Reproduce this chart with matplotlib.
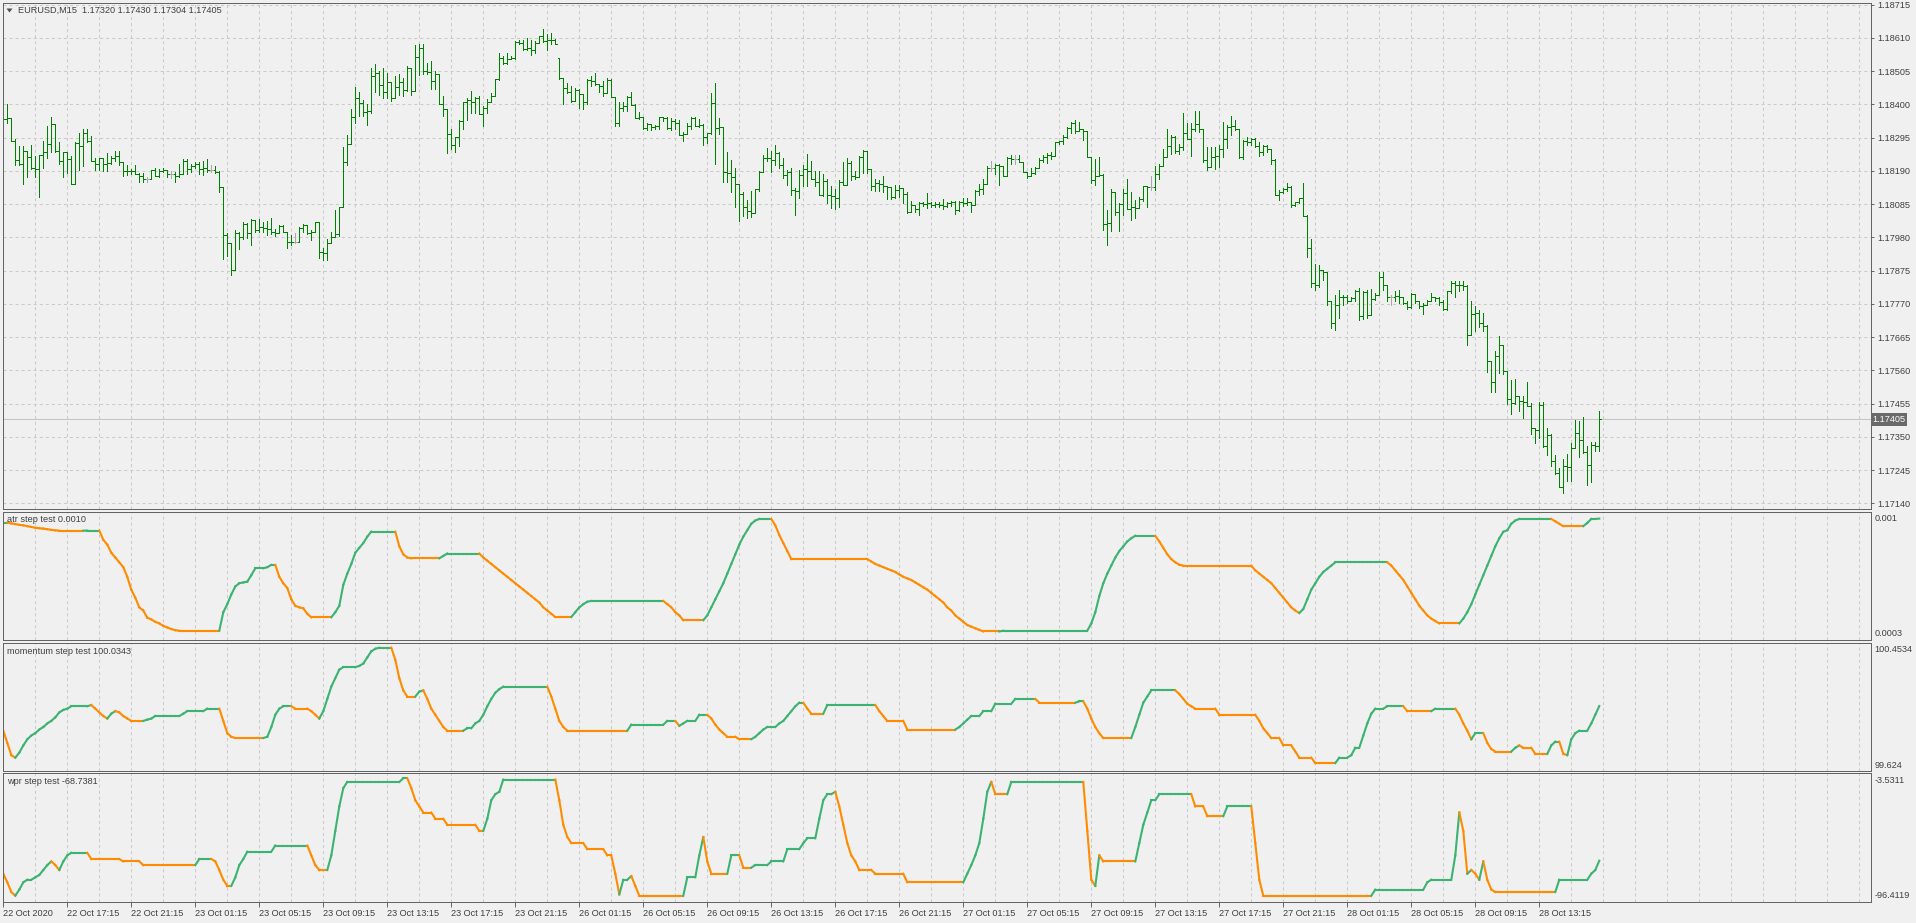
import numpy as np
import matplotlib.pyplot as plt
from matplotlib.collections import LineCollection
from matplotlib.patches import Polygon
from matplotlib.transforms import blended_transform_factory

# EURUSD M15 bars, prices in points: 18374 -> 1.18374
opens = [
    18300, 18355, 18358, 18283, 18224, 18210, 18254, 18233, 18198, 18196,
    18240, 18250, 18274, 18339, 18254, 18222, 18248, 18227, 18149, 18277,
    18269, 18311, 18285, 18222, 18212, 18230, 18212, 18214, 18230, 18236,
    18217, 18191, 18189, 18191, 18180, 18175, 18165, 18165, 18194, 18175,
    18191, 18194, 18180, 18180, 18175, 18180, 18222, 18196, 18204, 18212,
    18196, 18198, 18194, 18194, 18186, 18139, 17987, 17961, 17878, 17993,
    17982, 18021, 17993, 18034, 18003, 18013, 18011, 18006, 17996, 17993,
    18017, 17998, 17966, 17964, 17964, 18010, 18019, 17993, 17998, 18027,
    17933, 17930, 17961, 17982, 17989, 18076, 18217, 18274, 18361, 18421,
    18403, 18376, 18378, 18490, 18500, 18460, 18440, 18470, 18420, 18455,
    18470, 18445, 18516, 18443, 18549, 18578, 18505, 18503, 18474, 18497,
    18401, 18385, 18307, 18271, 18297, 18347, 18406, 18415, 18406, 18419,
    18370, 18389, 18406, 18425, 18479, 18547, 18531, 18544, 18546, 18596,
    18594, 18575, 18578, 18571, 18594, 18617, 18599, 18602, 18604, 18545,
    18484, 18453, 18438, 18411, 18446, 18432, 18406, 18477, 18474, 18464,
    18458, 18435, 18477, 18422, 18342, 18387, 18396, 18422, 18398, 18357,
    18359, 18325, 18338, 18328, 18333, 18359, 18356, 18325, 18346, 18340,
    18304, 18307, 18331, 18357, 18333, 18335, 18297, 18310, 18404, 18325,
    18330, 18185, 18182, 18172, 18148, 18116, 18075, 18064, 18057, 18133,
    18185, 18229, 18231, 18224, 18245, 18208, 18177, 18185, 18130, 18125,
    18177, 18196, 18191, 18165, 18156, 18115, 18158, 18115, 18111, 18105,
    18156, 18146, 18215, 18175, 18170, 18233, 18254, 18196, 18142, 18152,
    18148, 18142, 18139, 18107, 18128, 18136, 18118, 18060, 18081, 18069,
    18087, 18084, 18087, 18083, 18085, 18081, 18079, 18087, 18092, 18066,
    18090, 18088, 18090, 18083, 18125, 18133, 18149, 18198, 18198, 18209,
    18204, 18175, 18231, 18227, 18227, 18219, 18186, 18175, 18184, 18198,
    18225, 18233, 18240, 18236, 18280, 18283, 18298, 18326, 18342, 18316,
    18321, 18316, 18233, 18160, 18175, 18177, 18021, 18024, 18123, 18060,
    18084, 18121, 18069, 18076, 18072, 18102, 18142, 18139, 18139, 18180,
    18204, 18233, 18269, 18298, 18254, 18264, 18311, 18292, 18321, 18337,
    18323, 18223, 18203, 18234, 18236, 18260, 18292, 18328, 18332, 18321,
    18234, 18283, 18281, 18292, 18269, 18248, 18269, 18258, 18223, 18115,
    18122, 18132, 18140, 18082, 18090, 18103, 18048, 17945, 17835, 17830,
    17877, 17872, 17778, 17709, 17765, 17793, 17790, 17778, 17788, 17811,
    17730, 17807, 17736, 17786, 17799, 17856, 17830, 17793, 17793, 17796,
    17790, 17772, 17759, 17801, 17778, 17762, 17767, 17780, 17793, 17788,
    17776, 17755, 17809, 17835, 17828, 17830, 17826, 17671, 17738, 17741,
    17709, 17699, 17589, 17524, 17605, 17641, 17557, 17468, 17458, 17479,
    17463, 17460, 17447, 17377, 17371, 17450, 17321, 17356, 17274, 17237,
    17190, 17258, 17255, 17314, 17363, 17339, 17303, 17262, 17324, 17320,
]
highs = [
    18374, 18400, 18358, 18290, 18269, 18269, 18254, 18272, 18236, 18240,
    18285, 18332, 18359, 18339, 18280, 18250, 18250, 18236, 18280, 18308,
    18323, 18321, 18301, 18230, 18231, 18231, 18246, 18238, 18254, 18254,
    18219, 18209, 18196, 18207, 18183, 18183, 18170, 18194, 18198, 18196,
    18198, 18194, 18188, 18186, 18212, 18227, 18227, 18212, 18217, 18219,
    18222, 18227, 18207, 18204, 18188, 18139, 17993, 17961, 18003, 17998,
    18029, 18024, 18037, 18035, 18037, 18027, 18031, 18040, 18006, 18019,
    18019, 17998, 17987, 17993, 18013, 18022, 18019, 18003, 18029, 18029,
    17946, 17974, 17996, 18066, 18076, 18264, 18303, 18384, 18455, 18438,
    18413, 18400, 18515, 18528, 18505, 18515, 18500, 18470, 18490, 18495,
    18484, 18521, 18516, 18586, 18592, 18589, 18531, 18537, 18505, 18497,
    18427, 18385, 18321, 18297, 18349, 18406, 18419, 18443, 18422, 18427,
    18394, 18417, 18435, 18479, 18563, 18552, 18561, 18554, 18599, 18604,
    18604, 18610, 18602, 18599, 18617, 18638, 18623, 18625, 18607, 18547,
    18484, 18467, 18458, 18453, 18448, 18432, 18479, 18490, 18498, 18464,
    18474, 18484, 18481, 18422, 18406, 18406, 18425, 18440, 18401, 18375,
    18359, 18342, 18338, 18335, 18359, 18361, 18359, 18356, 18354, 18349,
    18312, 18342, 18359, 18359, 18354, 18338, 18310, 18435, 18467, 18356,
    18330, 18248, 18224, 18198, 18148, 18123, 18099, 18125, 18133, 18189,
    18239, 18262, 18252, 18273, 18250, 18229, 18192, 18198, 18137, 18192,
    18209, 18243, 18222, 18191, 18188, 18180, 18165, 18142, 18133, 18160,
    18217, 18230, 18222, 18191, 18236, 18257, 18254, 18196, 18165, 18160,
    18173, 18142, 18139, 18144, 18146, 18136, 18123, 18094, 18081, 18092,
    18092, 18121, 18092, 18090, 18092, 18100, 18092, 18094, 18094, 18094,
    18104, 18104, 18092, 18128, 18149, 18165, 18204, 18222, 18212, 18212,
    18204, 18233, 18240, 18240, 18240, 18219, 18186, 18198, 18201, 18230,
    18240, 18246, 18248, 18282, 18285, 18303, 18330, 18344, 18351, 18344,
    18321, 18316, 18233, 18227, 18233, 18180, 18066, 18133, 18123, 18087,
    18133, 18165, 18123, 18097, 18107, 18142, 18142, 18173, 18204, 18212,
    18259, 18323, 18303, 18301, 18274, 18372, 18340, 18340, 18379, 18379,
    18323, 18265, 18265, 18265, 18271, 18344, 18334, 18363, 18352, 18321,
    18286, 18297, 18294, 18294, 18281, 18271, 18273, 18260, 18226, 18129,
    18136, 18153, 18143, 18092, 18105, 18153, 18050, 17975, 17895, 17893,
    17877, 17872, 17780, 17799, 17814, 17799, 17799, 17793, 17814, 17820,
    17809, 17814, 17818, 17804, 17872, 17872, 17830, 17799, 17811, 17814,
    17793, 17778, 17804, 17801, 17780, 17772, 17783, 17804, 17793, 17790,
    17783, 17811, 17841, 17841, 17843, 17843, 17830, 17778, 17762, 17751,
    17741, 17702, 17589, 17620, 17668, 17641, 17559, 17528, 17534, 17479,
    17479, 17524, 17458, 17377, 17461, 17461, 17379, 17360, 17293, 17251,
    17279, 17297, 17329, 17402, 17400, 17413, 17321, 17335, 17335, 17430,
]
lows = [
    18254, 18341, 18283, 18207, 18207, 18149, 18170, 18196, 18170, 18108,
    18198, 18230, 18250, 18248, 18212, 18172, 18183, 18149, 18149, 18194,
    18204, 18280, 18222, 18194, 18194, 18188, 18191, 18212, 18222, 18209,
    18175, 18177, 18180, 18180, 18154, 18156, 18154, 18163, 18173, 18170,
    18186, 18170, 18168, 18156, 18170, 18180, 18180, 18186, 18198, 18180,
    18178, 18186, 18186, 18184, 18123, 17912, 17920, 17862, 17878, 17944,
    17975, 17977, 17956, 17996, 17998, 17998, 17987, 17989, 17985, 17993,
    17998, 17946, 17956, 17963, 17964, 17996, 17989, 17972, 17996, 17914,
    17909, 17909, 17961, 17982, 17985, 18076, 18207, 18274, 18341, 18363,
    18363, 18334, 18374, 18440, 18430, 18420, 18420, 18410, 18420, 18430,
    18427, 18443, 18429, 18443, 18492, 18495, 18495, 18448, 18450, 18401,
    18362, 18245, 18260, 18250, 18269, 18323, 18352, 18373, 18373, 18370,
    18331, 18373, 18406, 18425, 18477, 18526, 18526, 18542, 18542, 18589,
    18573, 18573, 18557, 18563, 18594, 18596, 18571, 18592, 18592, 18481,
    18401, 18435, 18408, 18411, 18387, 18385, 18401, 18458, 18460, 18440,
    18427, 18435, 18422, 18331, 18331, 18380, 18380, 18398, 18356, 18354,
    18323, 18318, 18318, 18323, 18323, 18346, 18323, 18318, 18323, 18304,
    18283, 18307, 18323, 18331, 18328, 18273, 18279, 18307, 18210, 18307,
    18154, 18156, 18123, 18075, 18033, 18046, 18041, 18043, 18057, 18125,
    18185, 18221, 18187, 18208, 18198, 18166, 18146, 18114, 18052, 18104,
    18142, 18142, 18165, 18142, 18115, 18111, 18087, 18073, 18069, 18076,
    18146, 18146, 18160, 18165, 18170, 18184, 18184, 18131, 18125, 18125,
    18123, 18100, 18102, 18104, 18107, 18087, 18058, 18060, 18060, 18052,
    18079, 18073, 18076, 18076, 18076, 18069, 18076, 18079, 18055, 18063,
    18079, 18081, 18060, 18083, 18113, 18118, 18149, 18191, 18180, 18146,
    18175, 18175, 18212, 18212, 18217, 18186, 18167, 18175, 18180, 18198,
    18217, 18215, 18227, 18236, 18274, 18274, 18295, 18311, 18311, 18316,
    18288, 18233, 18152, 18146, 18175, 18003, 17956, 18000, 18052, 18000,
    18052, 18069, 18034, 18042, 18072, 18094, 18076, 18128, 18128, 18165,
    18204, 18233, 18243, 18246, 18243, 18257, 18292, 18236, 18316, 18313,
    18218, 18192, 18203, 18197, 18203, 18234, 18262, 18302, 18318, 18229,
    18227, 18271, 18271, 18265, 18237, 18239, 18248, 18213, 18113, 18098,
    18119, 18126, 18077, 18080, 18087, 18048, 17919, 17822, 17814, 17822,
    17846, 17765, 17694, 17688, 17725, 17767, 17772, 17778, 17778, 17720,
    17723, 17725, 17736, 17783, 17799, 17814, 17780, 17765, 17778, 17772,
    17769, 17755, 17757, 17772, 17757, 17738, 17765, 17778, 17778, 17767,
    17751, 17751, 17804, 17790, 17811, 17814, 17639, 17671, 17685, 17696,
    17685, 17555, 17492, 17492, 17552, 17549, 17455, 17423, 17455, 17431,
    17408, 17447, 17360, 17329, 17345, 17318, 17293, 17258, 17234, 17190,
    17174, 17211, 17211, 17314, 17287, 17300, 17199, 17206, 17305, 17304,
]
closes = [
    18355, 18358, 18283, 18224, 18210, 18254, 18233, 18198, 18196, 18240,
    18250, 18274, 18339, 18254, 18222, 18248, 18227, 18149, 18277, 18269,
    18311, 18285, 18222, 18212, 18230, 18212, 18214, 18230, 18236, 18217,
    18191, 18189, 18191, 18180, 18175, 18165, 18165, 18194, 18175, 18191,
    18194, 18180, 18180, 18175, 18180, 18222, 18196, 18204, 18212, 18196,
    18198, 18194, 18194, 18186, 18139, 17987, 17961, 17878, 17993, 17982,
    18021, 17993, 18034, 18003, 18013, 18011, 18006, 17996, 17993, 18017,
    17998, 17966, 17964, 17964, 18010, 18019, 17993, 17998, 18027, 17933,
    17930, 17961, 17982, 17989, 18076, 18217, 18274, 18361, 18421, 18403,
    18376, 18378, 18490, 18500, 18460, 18440, 18470, 18420, 18455, 18470,
    18445, 18516, 18443, 18549, 18578, 18505, 18503, 18474, 18497, 18401,
    18385, 18307, 18271, 18297, 18347, 18406, 18415, 18406, 18419, 18370,
    18389, 18406, 18425, 18479, 18547, 18531, 18544, 18546, 18596, 18594,
    18575, 18578, 18571, 18594, 18617, 18599, 18602, 18604, 18592, 18484,
    18453, 18438, 18411, 18446, 18432, 18406, 18477, 18474, 18464, 18458,
    18435, 18477, 18422, 18342, 18387, 18396, 18422, 18398, 18357, 18359,
    18325, 18338, 18328, 18333, 18359, 18356, 18325, 18346, 18340, 18304,
    18307, 18331, 18357, 18333, 18335, 18297, 18310, 18404, 18325, 18330,
    18185, 18182, 18172, 18148, 18116, 18075, 18064, 18057, 18133, 18185,
    18229, 18231, 18224, 18245, 18208, 18177, 18185, 18130, 18125, 18177,
    18196, 18191, 18165, 18156, 18115, 18158, 18115, 18111, 18105, 18156,
    18146, 18215, 18175, 18170, 18233, 18254, 18196, 18142, 18152, 18148,
    18142, 18139, 18107, 18128, 18136, 18118, 18060, 18081, 18069, 18087,
    18084, 18087, 18083, 18085, 18081, 18079, 18087, 18092, 18066, 18090,
    18088, 18090, 18083, 18125, 18133, 18149, 18198, 18198, 18209, 18204,
    18175, 18231, 18227, 18227, 18219, 18186, 18175, 18184, 18198, 18225,
    18233, 18240, 18236, 18280, 18283, 18298, 18326, 18342, 18316, 18321,
    18316, 18233, 18160, 18175, 18177, 18021, 18024, 18123, 18060, 18084,
    18121, 18069, 18076, 18072, 18102, 18142, 18139, 18139, 18180, 18204,
    18233, 18269, 18298, 18254, 18264, 18311, 18292, 18321, 18337, 18323,
    18223, 18203, 18234, 18236, 18260, 18292, 18328, 18332, 18321, 18234,
    18283, 18281, 18292, 18269, 18248, 18269, 18258, 18223, 18115, 18122,
    18132, 18140, 18082, 18090, 18103, 18048, 17945, 17835, 17830, 17877,
    17872, 17778, 17709, 17765, 17793, 17790, 17778, 17788, 17811, 17730,
    17807, 17736, 17786, 17799, 17856, 17830, 17793, 17793, 17796, 17790,
    17772, 17759, 17801, 17778, 17762, 17767, 17780, 17793, 17788, 17776,
    17755, 17809, 17835, 17828, 17830, 17826, 17671, 17738, 17741, 17709,
    17699, 17589, 17524, 17605, 17641, 17557, 17468, 17458, 17479, 17463,
    17460, 17447, 17377, 17371, 17450, 17321, 17356, 17274, 17237, 17190,
    17258, 17255, 17314, 17363, 17339, 17303, 17262, 17324, 17320, 17405,
]

# atr step, in points (1e-5)
atr_pts = [
    97.7, 97.7, 97.2, 96.8, 96.3, 96.0, 95.5, 95.0, 94.5, 94.2,
    94.0, 93.6, 93.2, 92.9, 92.7, 92.7, 92.7, 92.7, 92.7, 92.7,
    92.7, 92.8, 92.8, 92.8, 92.8, 87.0, 84.0, 79.0, 76.0, 73.0,
    70.0, 64.0, 56.0, 51.0, 45.0, 43.0, 38.5, 37.5, 36.0, 35.0,
    33.5, 32.5, 31.5, 30.8, 30.5, 30.5, 30.5, 30.5, 30.5, 30.5,
    30.5, 30.5, 30.5, 30.5, 30.5, 42.0, 47.0, 53.0, 58.0, 60.0,
    60.5, 61.0, 65.0, 69.3, 69.3, 69.3, 70.0, 71.4, 71.4, 64.0,
    60.0, 57.0, 50.0, 46.0, 45.0, 44.4, 41.0, 38.8, 38.8, 38.8,
    38.8, 38.8, 38.8, 42.0, 46.0, 59.0, 66.0, 72.0, 79.0, 82.0,
    85.0, 89.0, 92.1, 92.1, 92.1, 92.1, 92.1, 92.1, 92.1, 83.0,
    78.0, 76.0, 75.5, 75.5, 75.5, 75.5, 75.5, 75.5, 75.5, 75.5,
    77.0, 78.5, 78.5, 78.5, 78.5, 78.5, 78.5, 78.5, 78.5, 78.5,
    76.0, 74.0, 72.0, 70.0, 68.0, 66.0, 64.0, 62.0, 60.0, 58.0,
    56.0, 54.0, 52.0, 50.0, 48.0, 45.0, 43.0, 41.0, 39.0, 39.0,
    39.0, 39.0, 39.0, 42.0, 45.0, 47.0, 48.5, 49.0, 49.0, 49.0,
    49.0, 49.0, 49.0, 49.0, 49.0, 49.0, 49.0, 49.0, 49.0, 49.0,
    49.0, 49.0, 49.0, 49.0, 49.0, 49.0, 47.0, 45.0, 42.0, 40.0,
    37.0, 37.0, 37.0, 37.0, 37.0, 37.0, 40.0, 45.0, 50.0, 55.0,
    60.0, 66.0, 72.0, 78.0, 84.0, 89.0, 93.0, 97.0, 99.0, 100.0,
    100.0, 100.0, 100.0, 96.0, 90.0, 85.0, 80.0, 75.0, 75.0, 75.0,
    75.0, 75.0, 75.0, 75.0, 75.0, 75.0, 75.0, 75.0, 75.0, 75.0,
    75.0, 75.0, 75.0, 75.0, 75.0, 75.0, 75.0, 73.5, 72.0, 71.0,
    70.0, 69.0, 68.0, 67.0, 65.5, 64.0, 63.0, 62.0, 60.5, 59.0,
    57.5, 56.0, 54.0, 52.0, 50.0, 48.0, 45.0, 43.0, 40.0, 38.0,
    36.0, 34.0, 33.0, 32.0, 31.0, 30.0, 30.0, 30.0, 30.0, 30.0,
    30.5, 30.5, 30.5, 30.5, 30.5, 30.5, 30.5, 30.5, 30.5, 30.5,
    30.5, 30.5, 30.5, 30.5, 30.5, 30.5, 30.5, 30.5, 30.5, 30.5,
    30.5, 30.5, 35.0, 42.0, 52.0, 60.0, 66.0, 71.0, 76.0, 80.0,
    83.0, 86.0, 88.0, 89.5, 89.5, 89.5, 89.5, 89.5, 89.5, 86.0,
    82.0, 78.0, 75.0, 73.0, 71.5, 71.0, 71.0, 71.0, 71.0, 71.0,
    71.0, 71.0, 71.0, 71.0, 71.0, 71.0, 71.0, 71.0, 71.0, 71.0,
    71.0, 71.0, 71.0, 68.0, 66.0, 64.0, 62.0, 60.0, 57.0, 54.0,
    51.0, 48.0, 45.0, 43.0, 41.5, 44.0, 50.0, 56.0, 60.0, 64.0,
    67.0, 69.0, 71.0, 73.0, 73.0, 73.0, 73.0, 73.0, 73.0, 73.0,
    73.0, 73.0, 73.0, 73.0, 73.0, 73.0, 73.0, 71.0, 68.0, 65.0,
    62.0, 58.0, 54.0, 50.0, 46.0, 43.0, 40.0, 38.0, 36.5, 35.0,
    35.0, 35.0, 35.0, 35.0, 35.0, 38.0, 42.0, 47.0, 53.0, 59.0,
    65.0, 71.0, 77.0, 83.0, 88.0, 92.0, 93.0, 97.0, 99.0, 100.0,
    100.0, 100.0, 100.0, 100.0, 100.0, 100.0, 100.0, 100.0, 98.5, 97.0,
    95.5, 95.5, 95.5, 95.5, 95.5, 95.5, 97.5, 100.0, 100.0, 100.2,
]

momentum = [
    99.857, 99.769, 99.681, 99.663, 99.699, 99.751, 99.795, 99.822, 99.839, 99.865,
    99.883, 99.909, 99.927, 99.953, 99.988, 100.006, 100.015, 100.032, 100.032, 100.032,
    100.032, 100.032, 100.041, 100.015, 99.988, 99.962, 99.944, 99.979, 99.997, 99.988,
    99.962, 99.944, 99.927, 99.927, 99.927, 99.927, 99.936, 99.944, 99.962, 99.962,
    99.962, 99.962, 99.962, 99.962, 99.962, 99.979, 99.997, 99.997, 99.997, 99.997,
    99.997, 100.015, 100.015, 100.015, 100.015, 99.927, 99.839, 99.813, 99.804, 99.804,
    99.804, 99.804, 99.804, 99.804, 99.804, 99.804, 99.813, 99.883, 99.971, 100.015,
    100.032, 100.032, 100.032, 100.015, 100.015, 100.015, 100.015, 99.997, 99.971, 99.944,
    99.997, 100.085, 100.173, 100.234, 100.295, 100.313, 100.313, 100.313, 100.313, 100.322,
    100.339, 100.383, 100.427, 100.445, 100.453, 100.453, 100.453, 100.453, 100.366, 100.234,
    100.146, 100.102, 100.102, 100.102, 100.137, 100.146, 100.085, 100.015, 99.971, 99.927,
    99.883, 99.857, 99.857, 99.857, 99.857, 99.857, 99.874, 99.874, 99.909, 99.927,
    99.971, 100.032, 100.085, 100.129, 100.155, 100.173, 100.173, 100.173, 100.173, 100.173,
    100.173, 100.173, 100.173, 100.173, 100.173, 100.173, 100.173, 100.102, 100.015, 99.927,
    99.883, 99.857, 99.857, 99.857, 99.857, 99.857, 99.857, 99.857, 99.857, 99.857,
    99.857, 99.857, 99.857, 99.857, 99.857, 99.857, 99.857, 99.900, 99.900, 99.900,
    99.900, 99.900, 99.900, 99.900, 99.900, 99.900, 99.927, 99.927, 99.927, 99.892,
    99.909, 99.927, 99.927, 99.927, 99.971, 99.971, 99.971, 99.944, 99.900, 99.865,
    99.839, 99.813, 99.813, 99.813, 99.795, 99.795, 99.795, 99.795, 99.813, 99.839,
    99.865, 99.883, 99.883, 99.883, 99.909, 99.927, 99.962, 99.997, 100.032, 100.058,
    100.058, 100.015, 99.979, 99.979, 99.979, 99.979, 100.041, 100.041, 100.041, 100.041,
    100.041, 100.041, 100.041, 100.041, 100.041, 100.041, 100.041, 100.041, 100.041, 99.997,
    99.962, 99.927, 99.927, 99.927, 99.927, 99.927, 99.865, 99.865, 99.865, 99.865,
    99.865, 99.865, 99.865, 99.865, 99.865, 99.865, 99.865, 99.865, 99.865, 99.883,
    99.909, 99.936, 99.962, 99.962, 99.962, 99.997, 99.997, 99.997, 100.050, 100.050,
    100.050, 100.050, 100.050, 100.085, 100.085, 100.085, 100.085, 100.085, 100.085, 100.058,
    100.058, 100.058, 100.058, 100.058, 100.058, 100.058, 100.058, 100.058, 100.058, 100.067,
    100.067, 100.015, 99.944, 99.883, 99.839, 99.804, 99.804, 99.804, 99.804, 99.804,
    99.804, 99.804, 99.804, 99.883, 99.971, 100.058, 100.102, 100.146, 100.146, 100.146,
    100.146, 100.146, 100.146, 100.146, 100.120, 100.085, 100.050, 100.032, 100.015, 100.015,
    100.015, 100.015, 100.015, 100.015, 99.971, 99.971, 99.971, 99.971, 99.971, 99.971,
    99.971, 99.971, 99.971, 99.971, 99.927, 99.874, 99.839, 99.804, 99.804, 99.804,
    99.751, 99.751, 99.751, 99.707, 99.663, 99.663, 99.663, 99.663, 99.624, 99.624,
    99.624, 99.624, 99.624, 99.624, 99.663, 99.663, 99.663, 99.681, 99.734, 99.734,
    99.822, 99.909, 99.979, 100.015, 100.015, 100.015, 100.032, 100.032, 100.032, 100.032,
    100.032, 99.997, 99.997, 99.997, 99.997, 99.997, 99.997, 99.997, 100.015, 100.015,
    100.015, 100.015, 100.015, 100.015, 99.971, 99.909, 99.857, 99.795, 99.839, 99.839,
    99.839, 99.769, 99.725, 99.707, 99.707, 99.707, 99.707, 99.707, 99.734, 99.751,
    99.734, 99.734, 99.734, 99.690, 99.690, 99.690, 99.690, 99.751, 99.778, 99.778,
    99.690, 99.681, 99.795, 99.839, 99.857, 99.857, 99.857, 99.909, 99.971, 100.034,
]

wpr = [
    -79.0, -85.8, -93.5, -96.4, -91.6, -85.8, -83.8, -83.8, -81.9, -80.0,
    -76.1, -72.2, -69.3, -72.2, -76.1, -69.3, -64.5, -62.5, -62.5, -62.5,
    -62.5, -62.5, -67.4, -67.4, -67.4, -67.4, -67.4, -67.4, -67.4, -67.4,
    -69.3, -69.3, -69.3, -69.3, -69.3, -72.2, -72.2, -72.2, -72.2, -72.2,
    -72.2, -72.2, -72.2, -72.2, -72.2, -72.2, -72.2, -72.2, -72.2, -67.4,
    -67.4, -67.4, -67.4, -69.3, -76.1, -83.8, -88.7, -88.7, -81.9, -72.2,
    -67.4, -61.6, -61.6, -61.6, -61.6, -61.6, -61.6, -61.6, -56.7, -56.7,
    -56.7, -56.7, -56.7, -56.7, -56.7, -56.7, -56.7, -64.5, -72.2, -76.1,
    -76.1, -76.1, -64.5, -45.1, -25.8, -11.3, -6.4, -6.4, -6.4, -6.4,
    -6.4, -6.4, -6.4, -6.4, -6.4, -6.4, -6.4, -6.4, -6.4, -6.4,
    -3.5, -3.5, -11.3, -20.9, -25.8, -30.6, -30.6, -30.6, -35.5, -35.5,
    -35.5, -40.3, -40.3, -40.3, -40.3, -40.3, -40.3, -40.3, -40.3, -45.1,
    -45.1, -35.5, -20.9, -16.1, -14.2, -4.5, -4.5, -4.5, -4.5, -4.5,
    -4.5, -4.5, -4.5, -4.5, -4.5, -4.5, -4.5, -4.5, -4.5, -20.9,
    -40.3, -50.0, -54.8, -54.8, -54.8, -54.8, -59.6, -59.6, -59.6, -59.6,
    -59.6, -64.5, -64.5, -79.0, -95.4, -83.8, -83.8, -80.9, -88.7, -96.4,
    -96.4, -96.4, -96.4, -96.4, -96.4, -96.4, -96.4, -96.4, -96.4, -96.4,
    -96.4, -81.9, -81.9, -81.9, -64.5, -50.0, -69.3, -79.0, -79.0, -79.0,
    -79.0, -79.0, -64.5, -64.5, -64.5, -74.2, -74.2, -74.2, -72.2, -72.2,
    -72.2, -72.2, -69.3, -69.3, -69.3, -69.3, -59.6, -59.6, -59.6, -59.6,
    -54.8, -51.0, -51.0, -51.0, -35.5, -20.9, -16.1, -16.1, -14.2, -25.8,
    -40.3, -54.8, -64.5, -69.3, -76.1, -76.1, -76.1, -76.1, -79.0, -79.0,
    -79.0, -79.0, -79.0, -79.0, -79.0, -79.0, -85.8, -85.8, -85.8, -85.8,
    -85.8, -85.8, -85.8, -85.8, -85.8, -85.8, -85.8, -85.8, -85.8, -85.8,
    -85.8, -79.0, -72.2, -64.5, -54.8, -35.5, -14.2, -6.4, -16.1, -16.1,
    -16.1, -16.1, -6.4, -6.4, -6.4, -6.4, -6.4, -6.4, -6.4, -6.4,
    -6.4, -6.4, -6.4, -6.4, -6.4, -6.4, -6.4, -6.4, -6.4, -6.4,
    -6.4, -45.1, -83.8, -88.7, -64.5, -69.3, -69.3, -69.3, -69.3, -69.3,
    -69.3, -69.3, -69.3, -69.3, -54.8, -40.3, -30.6, -20.9, -20.9, -16.1,
    -16.1, -16.1, -16.1, -16.1, -16.1, -16.1, -16.1, -16.1, -25.8, -25.8,
    -25.8, -33.5, -33.5, -33.5, -33.5, -33.5, -25.8, -25.8, -25.8, -25.8,
    -25.8, -25.8, -25.8, -54.8, -83.8, -96.4, -96.4, -96.4, -96.4, -96.4,
    -96.4, -96.4, -96.4, -96.4, -96.4, -96.4, -96.4, -96.4, -96.4, -96.4,
    -96.4, -96.4, -96.4, -96.4, -96.4, -96.4, -96.4, -96.4, -96.4, -96.4,
    -96.4, -96.4, -96.4, -91.6, -91.6, -91.6, -91.6, -91.6, -91.6, -91.6,
    -91.6, -91.6, -91.6, -91.6, -91.6, -91.6, -85.8, -83.8, -83.8, -83.8,
    -83.8, -83.8, -83.8, -64.5, -30.6, -45.1, -79.0, -76.1, -79.0, -83.8,
    -69.3, -83.8, -91.6, -93.5, -93.5, -93.5, -93.5, -93.5, -93.5, -93.5,
    -93.5, -93.5, -93.5, -93.5, -93.5, -93.5, -93.5, -93.5, -93.5, -83.8,
    -83.8, -83.8, -83.8, -83.8, -83.8, -83.8, -83.8, -79.0, -76.1, -68.7,
]

price_ticks = [1.18715, 1.18610, 1.18505, 1.18400, 1.18295, 1.18190, 1.18085, 1.17980,
               1.17875, 1.17770, 1.17665, 1.17560, 1.17455, 1.17350, 1.17245, 1.17140]
time_labels = ['22 Oct 2020', '22 Oct 17:15', '22 Oct 21:15', '23 Oct 01:15', '23 Oct 05:15',
               '23 Oct 09:15', '23 Oct 13:15', '23 Oct 17:15', '23 Oct 21:15', '26 Oct 01:15',
               '26 Oct 05:15', '26 Oct 09:15', '26 Oct 13:15', '26 Oct 17:15', '26 Oct 21:15',
               '27 Oct 01:15', '27 Oct 05:15', '27 Oct 09:15', '27 Oct 13:15', '27 Oct 17:15',
               '27 Oct 21:15', '28 Oct 01:15', '28 Oct 05:15', '28 Oct 09:15', '28 Oct 13:15']
last_price = 1.17405

BG = '#f0f0f0'
FRAME = '#646464'
GRIDC = '#cacaca'
TXT = '#404040'
BAR = '#008000'
DOJI = '#a8a8a8'
UP = '#3cb371'
DOWN = '#ff8c00'
FS = 6.6
plt.rcParams['font.family'] = ['Liberation Sans', 'DejaVu Sans']

W, H = 1916, 923
fig = plt.figure(figsize=(W / 100, H / 100), dpi=100, facecolor=BG)


def panel(top, bottom):
    left, right = 2.7, 1870.7
    ax = fig.add_axes([left / W, 1 - bottom / H, (right - left) / W, (bottom - top) / H])
    ax.set_facecolor(BG)
    for s in ax.spines.values():
        s.set_color(FRAME)
        s.set_linewidth(0.72)
    ax.set_xlim(-0.15, 466.85)
    major = list(range(0, 385, 16))
    minor = [m for m in range(8, 467, 8) if m not in major]
    ax.set_xticks(major)
    ax.set_xticks(minor, minor=True)
    ax.grid(True, axis='x', which='both', color=GRIDC, linestyle=(0, (2.9, 2.9)), lw=0.75)
    ax.tick_params(axis='x', which='both', length=0, labelbottom=False)
    ax.set_axisbelow(True)
    return ax


def fx(px):
    return px / W


def fy(py):
    return 1 - py / H


def trend_line(ax, values):
    v = np.asarray(values, dtype=float)
    segs, cols = [], []
    up = True
    for i in range(1, len(v)):
        if v[i] > v[i - 1]:
            up = True
        elif v[i] < v[i - 1]:
            up = False
        segs.append([(i - 1, v[i - 1]), (i, v[i])])
        cols.append(UP if up else DOWN)
    ax.add_collection(LineCollection(segs, colors=cols, linewidths=1.5, capstyle='projecting'))


# main price panel
ax = panel(2.7, 509.3)
o = 1 + np.array(opens) / 1e5
h = 1 + np.array(highs) / 1e5
l = 1 + np.array(lows) / 1e5
c = 1 + np.array(closes) / 1e5
x = np.arange(len(c))
cols = [DOJI if oo == cc else BAR for oo, cc in zip(opens, closes)]
ax.vlines(x, l, h, colors=cols, lw=0.55, antialiased=False)
ax.hlines(o, x - 0.4, x, colors=cols, lw=0.55, antialiased=False)
ax.hlines(c, x, x + 0.4, colors=cols, lw=0.55, antialiased=False)
ax.set_ylim(1.17121, 1.18721)
ax.yaxis.tick_right()
ax.set_yticks(price_ticks)
ax.set_yticklabels(['%.5f' % p for p in price_ticks])
ax.tick_params(axis='y', length=2.5, width=0.7, color=FRAME, labelsize=FS, labelcolor=TXT, pad=2)
ax.grid(True, axis='y', color=GRIDC, linestyle=(0, (2.9, 2.9)), lw=0.75)
ax.axhline(last_price, color='#c4c4c4', lw=0.75, zorder=1)
ax.text(1.0008, last_price, '%.5f' % last_price, transform=blended_transform_factory(ax.transAxes, ax.transData),
        ha='left', va='center', fontsize=FS, color='white',
        bbox=dict(boxstyle='square,pad=0.18', fc='#6a6a6a', ec='none'))

fig.text(fx(18), fy(10.5), 'EURUSD,M15  1.17320 1.17430 1.17304 1.17405', fontsize=FS, color=TXT,
         ha='left', va='center')
fig.patches.append(Polygon([[fx(6.5), fy(8.5)], [fx(12.5), fy(8.5)], [fx(9.5), fy(12.5)]],
                           closed=True, transform=fig.transFigure, fc='#505050', ec='none'))

# atr step panel
ax1 = panel(511.7, 640)
trend_line(ax1, np.array(atr_pts) / 1e5)
ax1.set_ylim(24.7e-5, 104.5e-5)
ax1.set_yticks([])
fig.text(fx(7), fy(520), 'atr step test 0.0010', fontsize=FS, color=TXT, ha='left', va='center')
fig.text(fx(1874.5), fy(518.5), '0.001', fontsize=FS, color=TXT, ha='left', va='center')
fig.text(fx(1874.5), fy(633.5), '0.0003', fontsize=FS, color=TXT, ha='left', va='center')

# momentum step panel
ax2 = panel(642.7, 770.7)
trend_line(ax2, momentum)
ax2.set_ylim(99.5694, 100.4886)
ax2.set_yticks([])
fig.text(fx(7), fy(651.5), 'momentum step test 100.0343', fontsize=FS, color=TXT, ha='left', va='center')
fig.text(fx(1874.5), fy(649.5), '100.4534', fontsize=FS, color=TXT, ha='left', va='center')
fig.text(fx(1874.5), fy(765), '99.624', fontsize=FS, color=TXT, ha='left', va='center')

# wpr step panel
ax3 = panel(773.3, 902)
trend_line(ax3, wpr)
ax3.set_ylim(-101.4, 0.424)
ax3.set_yticks([])
fig.text(fx(7), fy(781.5), 'wpr step test -68.7381', fontsize=FS, color=TXT, ha='left', va='center')
fig.text(fx(1874.5), fy(780.5), '-3.5311', fontsize=FS, color=TXT, ha='left', va='center')
fig.text(fx(1874.5), fy(896), '-96.4119', fontsize=FS, color=TXT, ha='left', va='center')

ax3.set_xticklabels(time_labels)
ax3.tick_params(axis='x', which='major', length=3.5, width=0.7, color=FRAME, labelbottom=True,
                labelsize=FS, labelcolor=TXT, pad=1.5)
for lab in ax3.get_xticklabels():
    lab.set_ha('left')

fig.savefig('out.png', dpi=100, facecolor=BG)
